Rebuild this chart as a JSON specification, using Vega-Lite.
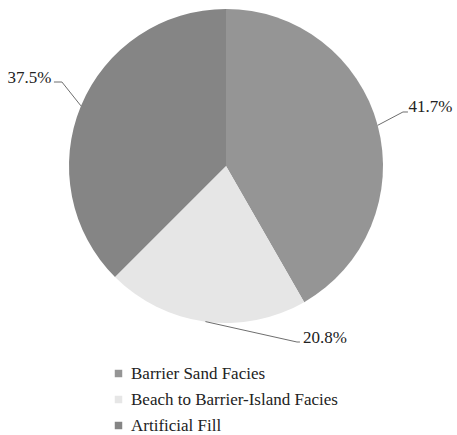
{
  "$schema": "https://vega.github.io/schema/vega-lite/v6.json",
  "width": 452,
  "height": 332,
  "padding": 0,
  "background": "white",
  "config": {"view": {"stroke": null}, "font": "'Liberation Serif', 'Times New Roman', Times, serif"},
  "datasets": {
    "slices": [
      {"facies": "Barrier Sand Facies", "pct": 41.7, "order": 1},
      {"facies": "Beach to Barrier-Island Facies", "pct": 20.8, "order": 2},
      {"facies": "Artificial Fill", "pct": 37.5, "order": 3}
    ],
    "leaders": [
      {"leader": "a", "seq": 1, "lx": 0.966, "ly": 0.259},
      {"leader": "a", "seq": 2, "lx": 1.127, "ly": 0.344},
      {"leader": "a", "seq": 3, "lx": 1.159, "ly": 0.344},
      {"leader": "b", "seq": 1, "lx": -0.131, "ly": -0.991},
      {"leader": "b", "seq": 2, "lx": 0.452, "ly": -1.121},
      {"leader": "b", "seq": 3, "lx": 0.471, "ly": -1.121},
      {"leader": "c", "seq": 1, "lx": -0.924, "ly": 0.383},
      {"leader": "c", "seq": 2, "lx": -1.045, "ly": 0.535},
      {"leader": "c", "seq": 3, "lx": -1.096, "ly": 0.535}
    ],
    "labels": [
      {"label": "41.7%", "tx": 1.302, "ty": 0.376},
      {"label": "20.8%", "tx": 0.631, "ty": -1.096},
      {"label": "37.5%", "tx": -1.252, "ty": 0.561}
    ]
  },
  "layer": [
    {
      "data": {"name": "slices"},
      "mark": {"type": "arc", "outerRadius": 157},
      "encoding": {
        "theta": {"field": "pct", "type": "quantitative", "stack": true},
        "order": {"field": "order", "type": "quantitative"},
        "color": {
          "field": "facies",
          "type": "nominal",
          "scale": {
            "domain": ["Barrier Sand Facies", "Beach to Barrier-Island Facies", "Artificial Fill"],
            "range": ["#959595", "#e6e6e6", "#858585"]
          },
          "legend": {
            "title": null,
            "orient": "none",
            "legendX": 110,
            "legendY": 365,
            "direction": "vertical",
            "symbolType": "square",
            "symbolSize": 56,
            "symbolStrokeWidth": 0,
            "labelFont": "'Liberation Serif', 'Times New Roman', Times, serif",
            "labelFontSize": 17,
            "labelColor": "#222222",
            "labelOffset": 4,
            "rowPadding": 8,
            "padding": 0,
            "labelLimit": 400
          }
        }
      }
    },
    {
      "data": {"name": "leaders"},
      "mark": {"type": "line", "color": "#6e6e6e", "strokeWidth": 1, "clip": false},
      "encoding": {
        "x": {"field": "lx", "type": "quantitative", "scale": {"domain": [-1.4395, 1.4395], "nice": false, "zero": false}, "axis": null},
        "y": {"field": "ly", "type": "quantitative", "scale": {"domain": [-1.0573, 1.0573], "nice": false, "zero": false}, "axis": null},
        "detail": {"field": "leader", "type": "nominal"},
        "order": {"field": "seq", "type": "quantitative"}
      }
    },
    {
      "data": {"name": "labels"},
      "mark": {"type": "text", "fontSize": 17, "font": "'Liberation Serif', 'Times New Roman', Times, serif", "color": "#222222", "align": "center", "baseline": "middle", "clip": false},
      "encoding": {
        "x": {"field": "tx", "type": "quantitative", "scale": {"domain": [-1.4395, 1.4395], "nice": false, "zero": false}, "axis": null},
        "y": {"field": "ty", "type": "quantitative", "scale": {"domain": [-1.0573, 1.0573], "nice": false, "zero": false}, "axis": null},
        "text": {"field": "label", "type": "nominal"}
      }
    }
  ]
}
